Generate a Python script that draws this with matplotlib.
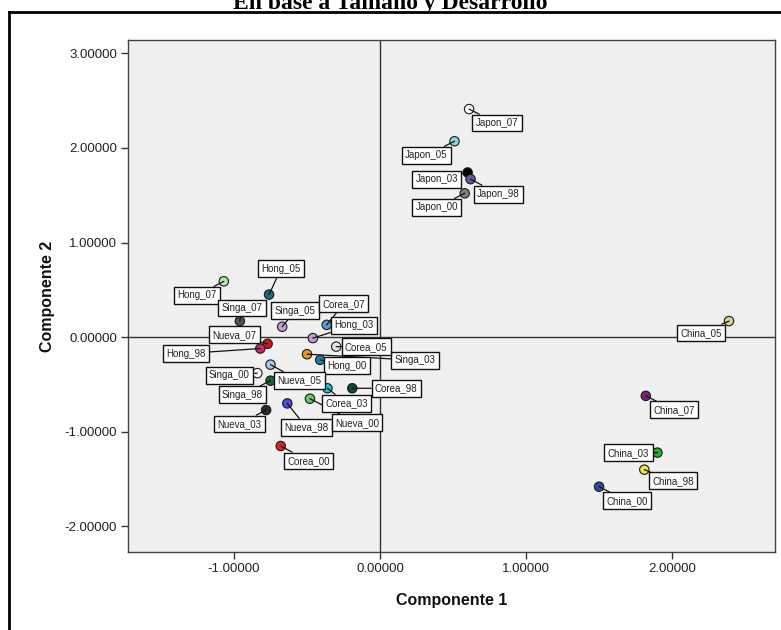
import matplotlib
matplotlib.use("Agg")
import matplotlib.pyplot as plt
from matplotlib.lines import Line2D

plt.rcParams['font.family'] = ['Liberation Sans', 'DejaVu Sans']

# scores of each country-year on the two components
labels = ['Japon_07', 'Japon_05', 'Japon_03', 'Japon_98', 'Japon_00',
          'China_05', 'China_07', 'China_03', 'China_98', 'China_00',
          'Hong_07', 'Hong_05', 'Singa_07', 'Singa_05', 'Corea_07',
          'Hong_03', 'Corea_05', 'Singa_03', 'Hong_00', 'Nueva_07',
          'Hong_98', 'Nueva_05', 'Singa_00', 'Singa_98', 'Nueva_98',
          'Nueva_00', 'Corea_03', 'Corea_98', 'Nueva_03', 'Corea_00']
comp1 = [0.61, 0.51, 0.60, 0.62, 0.58,
         2.39, 1.82, 1.90, 1.81, 1.50,
         -1.07, -0.76, -0.96, -0.67, -0.365,
         -0.46, -0.30, -0.50, -0.41, -0.77,
         -0.82, -0.75, -0.84, -0.75, -0.635,
         -0.48, -0.36, -0.19, -0.78, -0.68]
comp2 = [2.41, 2.07, 1.74, 1.67, 1.52,
         0.17, -0.62, -1.22, -1.40, -1.58,
         0.59, 0.45, 0.17, 0.11, 0.13,
         -0.01, -0.10, -0.18, -0.24, -0.07,
         -0.12, -0.29, -0.38, -0.46, -0.70,
         -0.65, -0.54, -0.54, -0.77, -1.15]
colors = ['#ffffff', '#8fd3d6', '#000000', '#5c5ca8', '#7f7f7f',
          '#d9cf8c', '#7b1f7b', '#27b027', '#ebe34a', '#2a4ea6',
          '#b2eaa8', '#1b6a82', '#555555', '#c59be0', '#5b9bd5',
          '#c497d6', '#e6e6e6', '#f0961e', '#1c7f9c', '#d0141e',
          '#c8286e', '#a9c9ea', '#ffffff', '#0f6b35', '#4b4be6',
          '#5fcc6f', '#2fbccc', '#0b4d2b', '#2b2b2b', '#e31f26']

# label box offsets in pixels (dx right, dy down)
label_dx = [28, -28, -31, 28, -28,
            -28, 28, -29, 29, 28,
            -27, 12, 2, 13, 17,
            41, 30, 108, 27, -33,
            -74, 29, -28, -28, 19,
            47, 19, 44, -27, 28]
label_dy = [14, 14, 7, 15, 14,
            12, 14, 0, 11, 14,
            14, -26, -13, -16, -21,
            -13, 0, 6, 6, -9,
            5, 16, 2, 14, 24,
            24, 15, 0, 14, 15]

xticks = [-1, 0, 1, 2]
yticks = [-2, -1, 0, 1, 2, 3]

fig = plt.figure(figsize=(7.81, 6.30), dpi=100)
ax = fig.add_axes([128/781, 1-552/630, 647/781, 512/630])
ax.set_facecolor('#f0f0f0')
ax.set_xlim(-1.726, 2.705)
ax.set_ylim(-2.27, 3.14)

ax.axhline(0, color='#333333', lw=1, zorder=1)
ax.axvline(0, color='#333333', lw=1, zorder=1)

ax.scatter(comp1, comp2, s=46, c=colors, edgecolors='#1a1a1a',
           linewidths=0.8, zorder=2)

# Singa_03 first so that Hong_00 box sits on top of its long leader
order = [17] + [i for i in range(len(labels)) if i != 17]
for i in order:
    ax.annotate(labels[i], xy=(comp1[i], comp2[i]),
                xytext=(label_dx[i], -label_dy[i]), textcoords='offset pixels',
                ha='center', va='center', fontsize=7, color='#222222',
                bbox=dict(boxstyle='square,pad=0.35', fc='white', ec='#111111', lw=1),
                arrowprops=dict(arrowstyle='-', color='#111111', lw=0.9,
                                shrinkA=0, shrinkB=0),
                zorder=3)

ax.set_xticks(xticks)
ax.set_yticks(yticks)
ax.set_xticklabels(['%.5f' % v for v in xticks])
ax.set_yticklabels(['%.5f' % v for v in yticks])
ax.tick_params(axis='both', length=5, width=1, color='#333333',
               labelsize=9.5, labelcolor='#222222', pad=3)
for sp in ax.spines.values():
    sp.set_color('#444444')
    sp.set_linewidth(1)

ax.set_xlabel('Componente 1', fontsize=11.5, fontweight='bold', color='#111111')
ax.xaxis.set_label_coords(0.5, -0.095)
ax.xaxis.label.set_va('center')
ax.set_ylabel('Componente 2', fontsize=11.5, fontweight='bold', color='#111111')
ax.yaxis.set_label_coords(-0.125, 0.5)
ax.yaxis.label.set_va('center')

# outer frame of the output viewer, cut at the right and bottom
fig.add_artist(Line2D([9/781, 9/781], [-0.01, 1-12/630], transform=fig.transFigure,
                      color='black', lw=2))
fig.add_artist(Line2D([9/781, 1.01], [1-12/630, 1-12/630], transform=fig.transFigure,
                      color='black', lw=2))

fig.text(0.5, 1-9/630, 'En base a Tamaño y Desarrollo', ha='center', va='baseline',
         fontsize=17, fontweight='bold', family=['Liberation Serif', 'DejaVu Serif'])

fig.savefig('out.png', dpi=100)
